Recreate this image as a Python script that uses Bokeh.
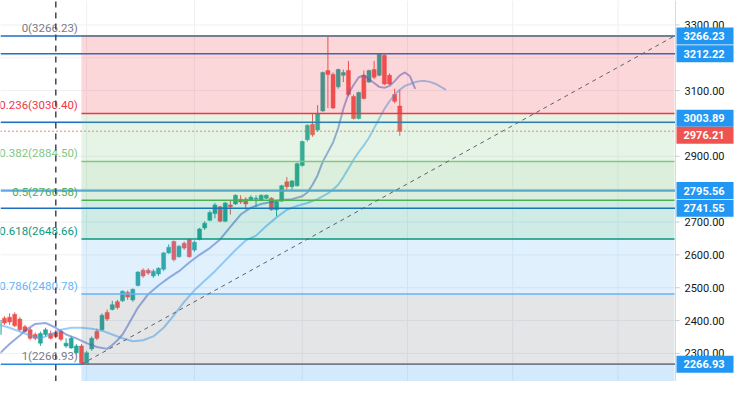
from bokeh.plotting import figure
from bokeh.models import Range1d, ColumnDataSource
from bokeh.embed import file_html
from bokeh.resources import INLINE
from bokeh.core.properties import value

# ---------------- data ----------------
opens = [2357.6, 2407.4, 2410.3, 2419.1, 2404.4, 2381.0, 2372.3, 2357.6, 2331.3, 2357.6,
         2360.6, 2363.5, 2366.4, 2322.6, 2316.7, 2302.1, 2322.6, 2270.0, 2313.8, 2366.4,
         2372.3, 2424.9, 2433.7, 2457.0, 2460.0, 2486.2, 2462.9, 2506.7, 2553.4, 2553.4,
         2535.9, 2541.7, 2556.3, 2606.0, 2641.0, 2594.3, 2635.2, 2646.9, 2614.8, 2646.9,
         2681.9, 2705.3, 2725.8, 2746.2, 2702.4, 2752.0, 2755.0, 2769.6, 2769.6, 2766.7,
         2769.6, 2766.7, 2772.5, 2772.5, 2737.4, 2763.7, 2822.2, 2807.6, 2810.5, 2871.8,
         2950.7, 2997.5, 2979.9, 3038.3, 3161.1, 3149.4, 3111.4, 3146.5, 3161.1, 3082.2,
         3015.0, 3146.5, 3126.0, 3164.0, 3146.5, 3207.8, 3146.5, 3088.0, 3053.0]
highs = [2407.4, 2413.2, 2422.0, 2424.9, 2410.3, 2386.9, 2378.1, 2363.5, 2366.4, 2378.1,
         2369.3, 2372.3, 2372.3, 2345.9, 2351.8, 2328.4, 2328.4, 2307.9, 2351.8, 2375.2,
         2422.0, 2433.7, 2460.0, 2462.9, 2492.0, 2492.0, 2497.9, 2550.4, 2559.2, 2559.2,
         2556.3, 2562.2, 2608.9, 2632.3, 2644.0, 2629.4, 2641.0, 2649.8, 2644.0, 2681.9,
         2702.4, 2734.5, 2757.9, 2749.1, 2760.8, 2766.7, 2784.2, 2781.3, 2775.4, 2781.3,
         2781.3, 2784.2, 2784.2, 2775.4, 2763.7, 2813.4, 2836.8, 2828.1, 2880.6, 2947.8,
         2997.5, 3029.6, 3055.9, 3158.2, 3266.23, 3155.2, 3166.9, 3164.0, 3190.3, 3088.0,
         3096.8, 3161.1, 3164.0, 3190.3, 3212.22, 3210.0, 3152.3, 3105.6, 3102.6]
lows = [2351.8, 2386.9, 2386.9, 2381.0, 2366.4, 2363.5, 2340.1, 2340.1, 2322.6, 2351.8,
        2343.0, 2345.9, 2337.2, 2316.7, 2313.8, 2296.3, 2266.93, 2268.0, 2307.9, 2340.1,
        2369.3, 2398.6, 2430.8, 2433.7, 2457.0, 2462.9, 2457.0, 2503.7, 2530.0, 2538.8,
        2530.0, 2535.9, 2550.4, 2603.1, 2579.7, 2591.4, 2614.8, 2591.4, 2608.9, 2644.0,
        2676.1, 2702.4, 2711.2, 2699.5, 2699.5, 2722.8, 2752.0, 2755.0, 2737.4, 2763.7,
        2746.2, 2763.7, 2769.6, 2734.5, 2717.0, 2760.8, 2798.8, 2795.9, 2807.6, 2868.9,
        2944.9, 2959.5, 2974.1, 3035.4, 3047.1, 3044.2, 3105.6, 3126.0, 3082.2, 3012.1,
        3012.1, 3073.4, 3123.1, 3134.8, 3143.5, 3117.2, 3117.2, 3061.7, 2962.4]
closes = [2401.5, 2392.7, 2395.7, 2384.0, 2372.3, 2366.4, 2345.9, 2345.9, 2360.6, 2372.3,
          2345.9, 2351.8, 2343.0, 2331.3, 2345.9, 2322.6, 2270.0, 2302.1, 2345.9, 2345.9,
          2416.1, 2404.4, 2448.3, 2439.5, 2489.1, 2471.6, 2495.0, 2547.5, 2535.9, 2544.6,
          2550.4, 2559.2, 2606.0, 2623.5, 2585.5, 2626.5, 2620.6, 2594.3, 2638.1, 2679.0,
          2696.5, 2728.7, 2752.0, 2702.4, 2757.9, 2746.2, 2781.3, 2760.8, 2755.0, 2775.4,
          2772.5, 2781.3, 2781.3, 2737.4, 2760.8, 2810.5, 2807.6, 2825.1, 2877.7, 2944.9,
          2994.5, 2965.3, 3029.6, 3155.2, 3149.4, 3047.1, 3164.0, 3155.2, 3088.0, 3015.0,
          3093.9, 3076.3, 3161.1, 3140.6, 3210.7, 3120.2, 3120.2, 3067.6, 2976.21]
bar_idx = list(range(len(opens)))

fast_idx = [0, 2, 4, 5, 7, 9, 11, 13, 15, 17, 19, 21, 22, 23, 24, 25, 27, 29, 31, 33,
            35, 37, 39, 41, 43, 45, 47, 49, 51, 53, 55, 57, 59, 60, 61, 62, 63, 64, 65, 66,
            67, 68, 69, 70, 71, 72, 73, 74, 75, 76, 77, 78, 79, 80, 81]
fast_ma = [2299.2, 2328.4, 2354.7, 2369.3, 2389.8, 2392.7, 2378.1, 2357.6, 2345.9, 2331.3,
           2319.7, 2313.8, 2325.5, 2340.1, 2357.6, 2384.0, 2439.5, 2480.4, 2506.7, 2530.0,
           2550.4, 2576.8, 2600.2, 2620.6, 2646.9, 2684.9, 2722.8, 2743.3, 2755.0, 2760.8,
           2766.7, 2769.6, 2778.4, 2790.0, 2813.4, 2842.6, 2883.5, 2912.7, 2942.0, 2985.8,
           3044.0, 3091.0, 3117.2, 3140.6, 3146.5, 3134.8, 3123.1, 3111.4, 3108.5, 3114.3,
           3128.9, 3146.5, 3155.2, 3143.5, 3105.6]
slow_idx = [0, 2, 4, 6, 8, 10, 12, 14, 16, 18, 20, 22, 24, 26, 28, 30,
            32, 34, 36, 38, 40, 42, 44, 46, 48, 50, 52, 54, 56, 58, 60, 62, 64,
            65, 66, 67, 68, 69, 70, 71, 72, 73, 74, 75, 76, 77, 78, 79, 80, 81, 82, 83,
            84, 85, 86, 87]
slow_ma = [2386.9, 2378.1, 2366.4, 2354.7, 2345.9, 2357.6, 2372.3, 2378.1, 2378.1, 2375.2,
           2369.3, 2357.6, 2345.9, 2337.2, 2340.1, 2351.8, 2378.1, 2416.1, 2457.0, 2492.0,
           2521.3, 2550.4, 2582.6, 2614.8, 2644.0, 2658.6, 2687.8, 2714.1, 2737.4, 2749.1,
           2757.9, 2769.6, 2787.1, 2798.8, 2813.4, 2836.8, 2863.1, 2889.4, 2912.7, 2933.2,
           2956.5, 2985.8, 3015.0, 3044.2, 3067.6, 3088.0, 3102.6, 3114.3, 3120.2, 3126.0,
           3128.9, 3128.9, 3126.0, 3120.2, 3111.4, 3102.6]

# Fibonacci retracement
fib_start_idx = 16
fib_end_idx = 131.5
fib_low = 2266.93
fib_high = 3266.23
fib_ratios = ["0", "0.236", "0.382", "0.5", "0.618", "0.786", "1", "1.618"]
fib_prices = [3266.23, 3030.40, 2884.50, 2766.58, 2648.66, 2480.78, 2266.93, 1649.41]
fib_colors = ["#787b86", "#f23645", "#81c784", "#4caf50", "#089981", "#64b5f6", "#787b86", "#2196f3"]

# horizontal lines / price-scale labels
hline_prices = [3266.23, 3212.22, 3003.89, 2795.56, 2741.55, 2266.93]
hline_colors = ["#1f6fc0", "#1f6fc0", "#1f6fc0", "#5aa9ea", "#1f6fc0", "#2a86e0"]
hline_widths = [1.5, 1.5, 1.5, 2.2, 1.5, 1.5]
last_price = 2976.21
marker_idx = 11

box_prices = [3266.23, 3212.22, 3003.89, 2976.21, 2795.56, 2741.55, 2266.93]
box_colors = ["#2196f3", "#2196f3", "#2196f3", "#ef5350", "#2196f3", "#2196f3", "#2196f3"]
box_shift_px = [0, 0, 4, -4, 0, 0, 0]

axis_ticks = [2300, 2400, 2500, 2600, 2700, 2900, 3100, 3300]
grid_ticks = [2300, 2400, 2500, 2600, 2700, 2800, 2900, 3000, 3100, 3200, 3300]
vgrid_idx = [17, 38, 59, 79.5, 100, 120.5]

# ---------------- geometry ----------------
W, H = 734, 381
chart_px = 675                      # width of the candle pane; the rest is the price scale
x_start, chart_end = 0.23, 131.7
y_lo, y_hi = 2214.5, 3374.3
ppi = chart_px / (chart_end - x_start)      # pixels per bar
ppu = H / (y_hi - y_lo)                     # pixels per price unit
x_end = x_start + W / ppi

p = figure(width=W, height=H, output_backend="svg", toolbar_location=None,
           x_range=Range1d(x_start, x_end), y_range=Range1d(y_lo, y_hi),
           x_axis_location=None, y_axis_location=None, min_border=0)
p.outline_line_color = None
p.background_fill_color = "white"
p.border_fill_color = "white"
p.grid.visible = False

grid_col = "#eef0f4"
# grid
p.segment(x0=x_start, x1=chart_end, y0=grid_ticks, y1=grid_ticks, line_color=grid_col, line_width=1)
p.segment(x0=vgrid_idx, x1=vgrid_idx, y0=y_lo, y1=y_hi, line_color=grid_col, line_width=1)

# candles
up = "#26a69a"
down = "#ef5350"
cols = [up if c >= o else down for o, c in zip(opens, closes)]
src = ColumnDataSource(dict(x=bar_idx, o=opens, h=highs, l=lows, c=closes,
                            top=[max(o, c) for o, c in zip(opens, closes)],
                            bot=[min(o, c) for o, c in zip(opens, closes)], col=cols))
p.segment(x0="x", x1="x", y0="l", y1="h", line_color="col", line_width=1, source=src)
p.vbar(x="x", width=0.78, top="top", bottom="bot", fill_color="col", line_color="col",
       line_width=0.5, source=src)

# moving averages
p.line(fast_idx, fast_ma, line_color="#3f63c8", line_alpha=0.55, line_width=2)
p.line(slow_idx, slow_ma, line_color="#42a5f5", line_alpha=0.55, line_width=2)

# horizontal lines (full pane width)
p.segment(x0=x_start, x1=chart_end, y0=hline_prices, y1=hline_prices,
          line_color=hline_colors, line_width=hline_widths)
p.segment(x0=[x_start], x1=[chart_end], y0=[last_price], y1=[last_price],
          line_color="#ef5350", line_width=1.3, line_dash="1 3")

# fib bands
p.quad(left=fib_start_idx, right=fib_end_idx, top=fib_prices[:-1], bottom=fib_prices[1:],
       fill_color=fib_colors[1:], fill_alpha=0.2, line_color=None)
# fib level lines
p.segment(x0=fib_start_idx, x1=fib_end_idx, y0=fib_prices[:-1], y1=fib_prices[:-1],
          line_color=fib_colors[:-1], line_width=1.5)
# trend line
p.segment(x0=[fib_start_idx], y0=[fib_low], x1=[fib_end_idx], y1=[fib_high],
          line_color="#5d606b", line_width=1, line_dash="4 4")
# fib labels
fib_texts = [f"{r}({v:.2f})" for r, v in zip(fib_ratios[:-1], fib_prices[:-1])]
p.text(x=[fib_start_idx - 0.7] * len(fib_texts), y=fib_prices[:-1], text=fib_texts,
       text_align="right", text_baseline="bottom", y_offset=-1,
       text_color=fib_colors[:-1], text_font=value("Roboto"), text_font_size="11.5px")

# vertical dashed marker line
p.segment(x0=[marker_idx], x1=[marker_idx], y0=[y_lo], y1=[y_hi],
          line_color="#434651", line_width=1.5, line_dash="6 5")

# ---------------- price scale ----------------
p.segment(x0=[chart_end], x1=[chart_end], y0=[y_lo], y1=[y_hi], line_color="#d6d9e0", line_width=1)
p.segment(x0=chart_end, x1=chart_end + 4 / ppi, y0=axis_ticks, y1=axis_ticks,
          line_color="#c8cbd3", line_width=1)
p.text(x=[chart_end] * len(axis_ticks), y=axis_ticks, text=[f"{t:.2f}" for t in axis_ticks],
       x_offset=9, text_align="left", text_baseline="middle", text_color="#131722",
       text_font=value("Roboto"), text_font_size="11px")

box_w, box_h = 57, 17
box_y = [pr + s / ppu for pr, s in zip(box_prices, box_shift_px)]
p.rect(x=[chart_end + (1 + box_w / 2) / ppi] * len(box_prices), y=box_y,
       width=box_w, height=box_h, width_units="screen", height_units="screen",
       fill_color=box_colors, line_color=None)
p.text(x=[chart_end] * len(box_prices), y=box_y, text=[f"{b:.2f}" for b in box_prices],
       x_offset=8, text_align="left", text_baseline="middle", text_color="white",
       text_font=value("Roboto"), text_font_size="11px", text_font_style="bold")

open("out.html", "w").write(file_html(p, INLINE))
